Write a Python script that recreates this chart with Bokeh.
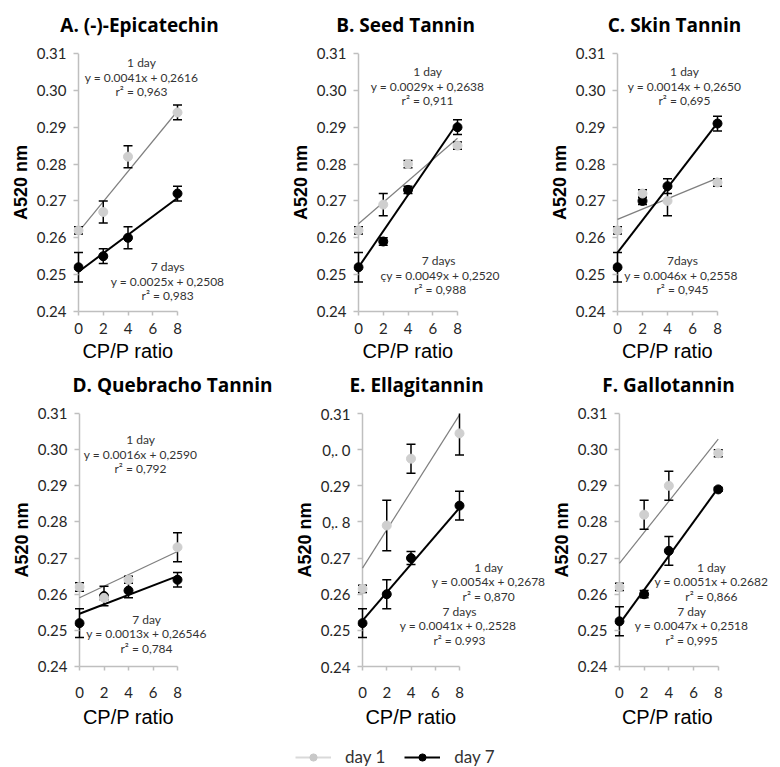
from bokeh.plotting import figure
from bokeh.layouts import row, column
from bokeh.models import (Range1d, FixedTicker, PrintfTickFormatter, Span, Label,
                          ColumnDataSource, Legend, LegendItem)
from bokeh.embed import file_html
from bokeh.resources import INLINE

# ---------------- data ----------------
cp_ratio = [0, 2, 4, 8]
x_ticks = [0, 2, 4, 6, 8]
y_ticks = [0.24, 0.25, 0.26, 0.27, 0.28, 0.29, 0.30, 0.31]

titles = ["A. (-)-Epicatechin", "B. Seed Tannin", "C. Skin Tannin",
          "D. Quebracho Tannin", "E. Ellagitannin", "F. Gallotannin"]
x_label = "CP/P ratio"
y_label = "A520 nm"

epi_day1 = [0.262, 0.267, 0.282, 0.294]
epi_day1_err = [0.001, 0.003, 0.003, 0.002]
epi_day7 = [0.252, 0.255, 0.260, 0.272]
epi_day7_err = [0.004, 0.002, 0.003, 0.002]

seed_day1 = [0.262, 0.269, 0.280, 0.285]
seed_day1_err = [0.001, 0.003, 0.001, 0.001]
seed_day7 = [0.252, 0.259, 0.273, 0.290]
seed_day7_err = [0.004, 0.001, 0.001, 0.002]

skin_day1 = [0.262, 0.272, 0.270, 0.275]
skin_day1_err = [0.001, 0.001, 0.004, 0.001]
skin_day7 = [0.252, 0.270, 0.274, 0.291]
skin_day7_err = [0.004, 0.001, 0.002, 0.002]

queb_day1 = [0.262, 0.259, 0.264, 0.273]
queb_day1_err = [0.0012, 0.0005, 0.001, 0.004]
queb_day7 = [0.252, 0.2595, 0.261, 0.264]
queb_day7_err = [0.004, 0.0027, 0.002, 0.002]

ella_day1 = [0.2615, 0.279, 0.2975, 0.3045]
ella_day1_err = [0.001, 0.007, 0.004, 0.006]
ella_day7 = [0.252, 0.260, 0.270, 0.2845]
ella_day7_err = [0.004, 0.004, 0.0018, 0.004]

gallo_day1 = [0.262, 0.282, 0.290, 0.299]
gallo_day1_err = [0.001, 0.004, 0.004, 0.001]
gallo_day7 = [0.2525, 0.260, 0.272, 0.289]
gallo_day7_err = [0.004, 0.001, 0.004, 0.0005]

# trend lines as drawn: (intercept, slope)
fit_day1 = [(0.2616, 0.0041), (0.2638, 0.0029), (0.2650, 0.0014),
            (0.2590, 0.0016), (0.2672, 0.0053), (0.2685, 0.0043)]
fit_day7 = [(0.2508, 0.0025), (0.2520, 0.0049), (0.2560, 0.0044),
            (0.2546, 0.0013), (0.2527, 0.0039), (0.2518, 0.0047)]

ann_day1 = [["1 day", "y = 0.0041x + 0,2616", "r\u00b2 = 0,963"],
            ["1 day", "y = 0.0029x + 0,2638", "r\u00b2 = 0,911"],
            ["1 day", "y = 0.0014x + 0,2650", "r\u00b2 = 0,695"],
            ["1 day", "y = 0.0016x + 0,2590", "r\u00b2 = 0,792"],
            ["1 day", "y = 0.0054x + 0,2678", "r\u00b2 = 0,870"],
            ["1 day", "y = 0.0051x + 0.2682", "r\u00b2 = 0,866"]]
ann_day7 = [["7 days", "y = 0.0025x + 0,2508", "r\u00b2 = 0,983"],
            ["7  days", "\u00e7y = 0.0049x + 0,2520", "r\u00b2 = 0,988"],
            ["7days", "y  = 0.0046x + 0,2558", "r\u00b2 = 0,945"],
            ["7 day", "y = 0.0013x + 0,26546", "r\u00b2 = 0,784"],
            ["7 days", "y  = 0.0041x + 0,.2528", "r\u00b2 = 0.993"],
            ["7 day", "y = 0.0047x + 0,2518", "r\u00b2 = 0,995"]]

ella_tick_overrides = {0.30: "0,. 0", 0.28: "0,. 8"}
legend_labels = ["day 1", "day 7"]

series = [
    (epi_day1, epi_day1_err, epi_day7, epi_day7_err),
    (seed_day1, seed_day1_err, seed_day7, seed_day7_err),
    (skin_day1, skin_day1_err, skin_day7, skin_day7_err),
    (queb_day1, queb_day1_err, queb_day7, queb_day7_err),
    (ella_day1, ella_day1_err, ella_day7, ella_day7_err),
    (gallo_day1, gallo_day1_err, gallo_day7, gallo_day7_err),
]

# ---------------- layout / style ----------------
# (figure left, figure width, x=0 pixel, x=8 pixel) in page pixels
geom = [(0, 260, 78, 177), (260, 260, 358, 457), (520, 260, 617, 717),
        (0, 270, 79, 177), (270, 278, 362, 459), (548, 232, 617, 717)]
title_centers = [139, 405, 674, 172, 416, 668]
# annotation anchor (data units: x, y of the middle line)
ann1_pos = [(5.09, 0.3036), (5.58, 0.3011), (5.36, 0.3011),
            (4.98, 0.2987), (10.4, 0.2635), (7.44, 0.2635)]
ann7_pos = [(7.2, 0.2482), (6.6, 0.2498), (5.2, 0.2498),
            (5.47, 0.2491), (8.0, 0.2513), (5.84, 0.2513)]
ANN_LINE = 14.5

ROWS = [dict(h=298, top=11, frame=258, label_standoff=7),
        dict(h=304, top=11, frame=253, label_standoff=16)]
STRIPS = [42, 62, 767 - 42 - 298 - 62 - 304]
TITLE_BASE = [18, 18]        # title anchor above strip bottom (strip 0, strip 1)
XLABEL_BASE = [51.5, 51]     # x label anchor above strip bottom (strip 1, strip 2)

AXIS_GREY = "#bfbfbf"
DAY1_MARK = "#cfcfcf"
DAY1_LINE = "#7f7f7f"
TEXT = "#262626"
PAD = 5


def strip(h):
    s = figure(width=780, height=h, x_range=Range1d(0, 780), y_range=Range1d(0, h),
               x_axis_type=None, y_axis_type=None, min_border=0,
               output_backend="svg", toolbar_location=None, outline_line_color=None)
    s.xgrid.visible = False
    s.ygrid.visible = False
    return s


def add_title(s, i, yb):
    s.add_layout(Label(x=title_centers[i], y=yb, text=titles[i], text_align="center",
                       text_baseline="alphabetic", text_font="Open Sans",
                       text_font_style="bold", text_font_size="19px",
                       text_color="#000000"))


def add_xlabel(s, i, yb):
    fx0, fw, ax0, ax8 = geom[i]
    s.add_layout(Label(x=(ax0 + ax8) / 2.0, y=yb, text=x_label, text_align="center",
                       text_baseline="alphabetic", text_font="Liberation Sans",
                       text_font_size="20px", text_color="#000000"))


def make_panel(i):
    fx0, fw, ax0, ax8 = geom[i]
    r = ROWS[i // 3]
    ppu = (ax8 - ax0) / 8.0
    left = ax0 - PAD - fx0
    bottom = r["h"] - r["top"] - r["frame"]
    p = figure(width=fw, height=r["h"],
               x_range=Range1d(-PAD / ppu, (fx0 + fw - ax0) / ppu),
               y_range=Range1d(0.24, 0.31),
               min_border_left=left, min_border_right=0,
               min_border_top=r["top"], min_border_bottom=bottom,
               output_backend="svg", toolbar_location=None,
               outline_line_color=None)
    p.xgrid.visible = False
    p.ygrid.visible = False

    # y axis (its line drawn as a span at x=0)
    ya = p.yaxis[0]
    ya.ticker = FixedTicker(ticks=y_ticks)
    ya.formatter = PrintfTickFormatter(format="%.2f")
    ya.axis_line_color = None
    ya.major_tick_in = PAD
    ya.major_tick_out = 0
    ya.major_tick_line_color = AXIS_GREY
    ya.major_tick_line_width = 1.5
    ya.minor_tick_line_color = None
    ya.major_label_text_font = "Lato"
    ya.major_label_text_font_size = "15px"
    ya.major_label_text_color = TEXT
    ya.major_label_standoff = 7
    ya.axis_label = y_label
    ya.axis_label_text_font = "Liberation Sans"
    ya.axis_label_text_font_style = "bold"
    ya.axis_label_text_font_size = "18px"
    ya.axis_label_text_color = "#000000"
    ya.axis_label_standoff = 3
    if i == 4:
        ya.major_label_overrides = ella_tick_overrides

    xa = p.xaxis[0]
    xa.ticker = FixedTicker(ticks=x_ticks)
    xa.bounds = (0, 8)
    xa.axis_line_color = AXIS_GREY
    xa.axis_line_width = 1.5
    xa.major_tick_in = 0
    xa.major_tick_out = 4
    xa.major_tick_line_color = AXIS_GREY
    xa.major_tick_line_width = 1.5
    xa.minor_tick_line_color = None
    xa.major_label_text_font = "Lato"
    xa.major_label_text_font_size = "15px"
    xa.major_label_text_color = TEXT
    xa.major_label_standoff = r["label_standoff"]

    yline = Span(location=0, dimension="height", line_color=AXIS_GREY, line_width=1.5)
    yline.level = "underlay"
    p.add_layout(yline)

    d1, e1, d7, e7 = series[i]
    # trend lines
    for (b, m), col, lw in ((fit_day1[i], DAY1_LINE, 1.2), (fit_day7[i], "#000000", 2)):
        xs = [0, 8]
        p.line(xs, [b + m * xv for xv in xs], line_color=col, line_width=lw)

    # error bars
    for vals, errs in ((d7, e7), (d1, e1)):
        lo = [v - e for v, e in zip(vals, errs)]
        hi = [v + e for v, e in zip(vals, errs)]
        src = ColumnDataSource(data=dict(x=cp_ratio, y=vals, lo=lo, hi=hi))
        p.segment(x0="x", y0="lo", x1="x", y1="hi", source=src,
                  line_color="#000000", line_width=1.5)
        p.scatter("x", "lo", source=src, marker="dash", size=9,
                  line_color="#000000", line_width=1.5)
        p.scatter("x", "hi", source=src, marker="dash", size=9,
                  line_color="#000000", line_width=1.5)
    # markers
    for vals, mcol in ((d7, "#000000"), (d1, DAY1_MARK)):
        p.scatter(cp_ratio, vals, marker="circle", size=9,
                  fill_color=mcol, line_color=mcol)

    # regression annotations, one label per line
    for lines, (ax, ay) in ((ann_day1[i], ann1_pos[i]), (ann_day7[i], ann7_pos[i])):
        for k, txt in enumerate(lines):
            p.add_layout(Label(x=ax, y=ay, y_offset=(1 - k) * ANN_LINE, text=txt,
                               text_align="center", text_baseline="middle",
                               text_font="Lato", text_font_size="12px",
                               text_color="#333333"))
    return p


panels = [make_panel(i) for i in range(6)]

s0 = strip(STRIPS[0])
for i in range(3):
    add_title(s0, i, TITLE_BASE[0])

s1 = strip(STRIPS[1])
for i in range(3):
    add_xlabel(s1, i, XLABEL_BASE[0])
for i in range(3, 6):
    add_title(s1, i, TITLE_BASE[1])

s2 = strip(STRIPS[2])
for i in range(3, 6):
    add_xlabel(s2, i, XLABEL_BASE[1])

nan = float("nan")
placeholder = ColumnDataSource(data=dict(x=[nan], y=[nan]))
l1 = s2.line("x", "y", source=placeholder, line_color="#d9d9d9", line_width=2)
m1 = s2.scatter("x", "y", source=placeholder, marker="circle", size=6,
                fill_color="#c8c8c8", line_color="#c8c8c8")
l7 = s2.line("x", "y", source=placeholder, line_color="#000000", line_width=2)
m7 = s2.scatter("x", "y", source=placeholder, marker="circle", size=6,
                fill_color="#000000", line_color="#000000")
legend = Legend(items=[LegendItem(label=legend_labels[0], renderers=[l1, m1]),
                       LegendItem(label=legend_labels[1], renderers=[l7, m7])],
                orientation="horizontal", location=(295, 0),
                glyph_width=36, glyph_height=18, label_standoff=14, spacing=19,
                padding=0, margin=0, border_line_color=None,
                background_fill_alpha=0,
                label_text_font="Lato", label_text_font_size="17px",
                label_text_color="#333333")
s2.add_layout(legend)

layout = column(s0, row(*panels[:3]), s1, row(*panels[3:]), s2)
open("out.html", "w").write(file_html(layout, INLINE))
